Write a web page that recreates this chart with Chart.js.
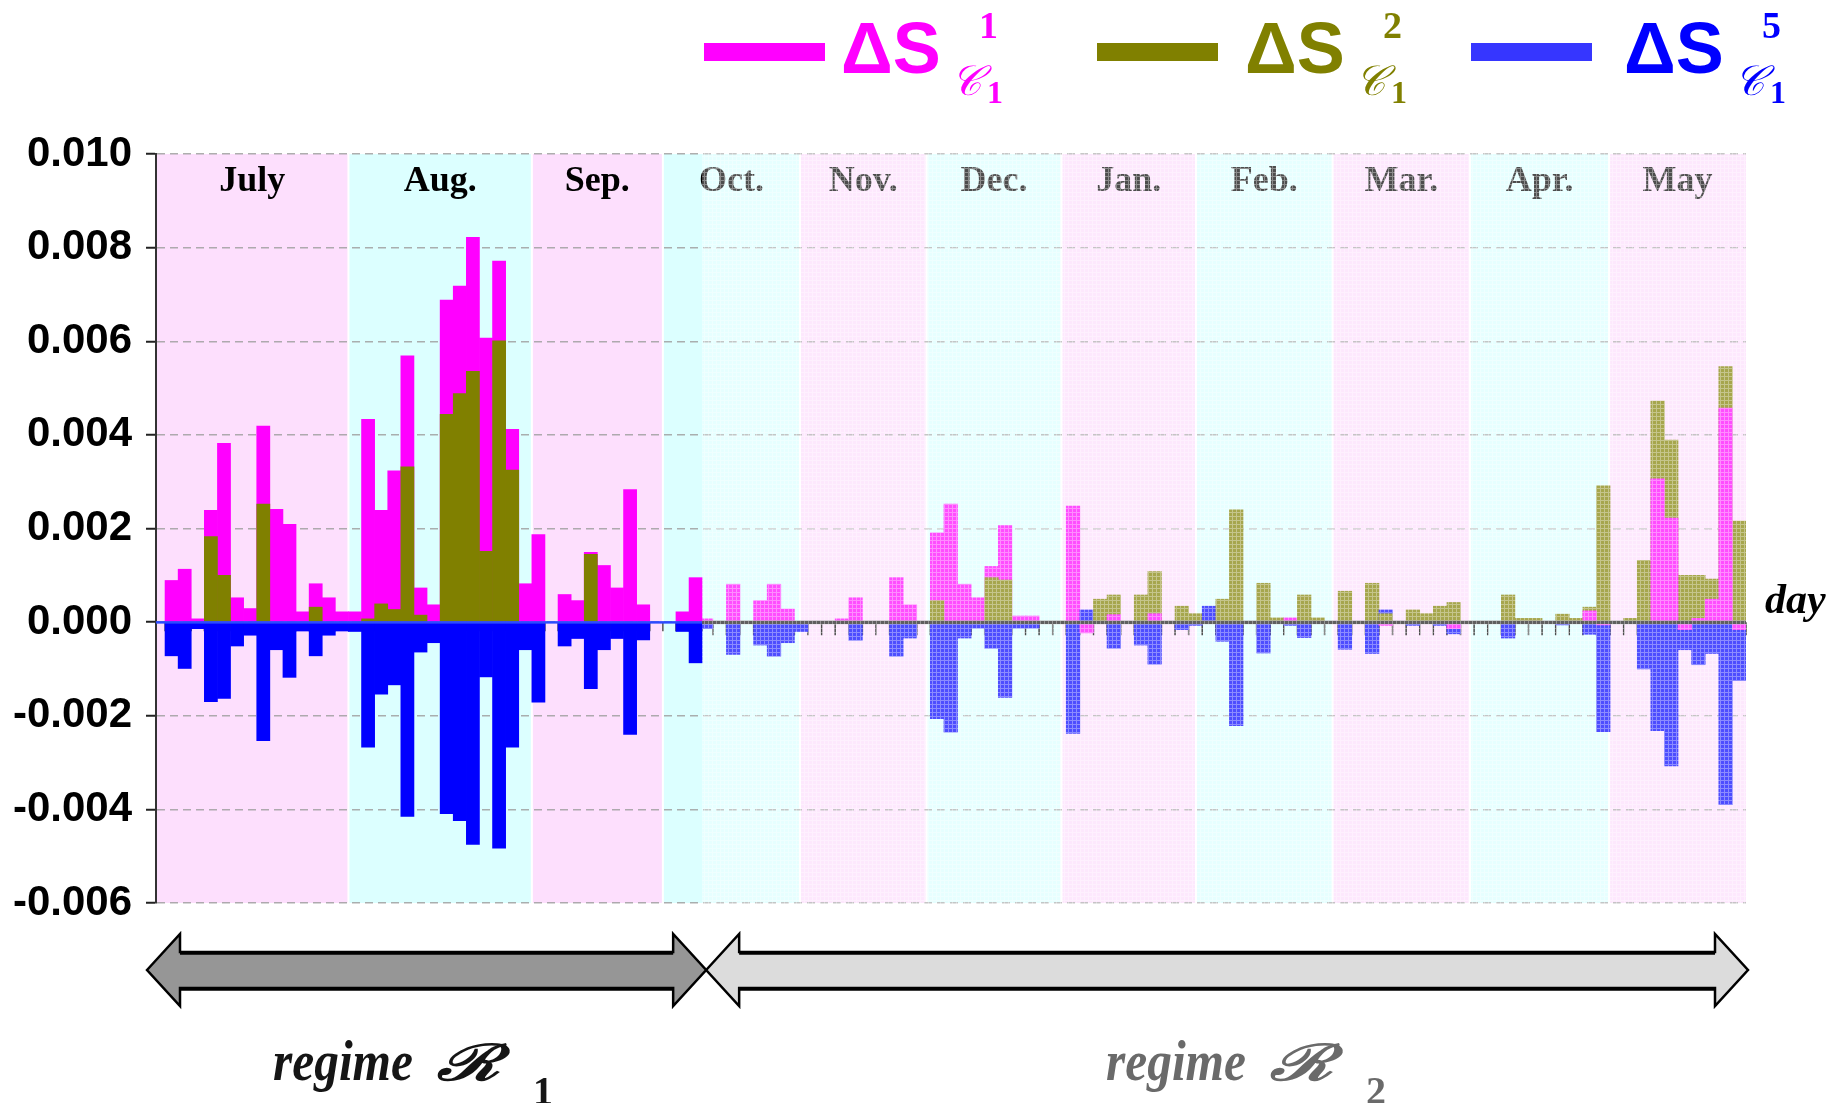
<!DOCTYPE html>
<html>
<head>
<meta charset="utf-8">
<title>Delta S by day, regimes R1 / R2</title>
<script src="https://cdn.jsdelivr.net/npm/chart.js@4.4.1/dist/chart.umd.min.js"></script>
<style>
  html, body { margin: 0; padding: 0; background: #fff; }
  #wrap { position: relative; width: 1845px; height: 1103px; overflow: hidden; }
  #chart, #ann { position: absolute; left: 0; top: 0; }
  #ann { pointer-events: none; }
</style>
</head>
<body>
<div id="wrap">
  <canvas id="chart" width="1845" height="1103"></canvas>
  <svg id="ann" width="1845" height="1103" xmlns="http://www.w3.org/2000/svg"></svg>
</div>
<script>
/* ---------- data (one value per bar) ---------- */
const dS1 = [
  0.00089, 0.00113, 0.00007, 0.00239, 0.00382, 0.00052, 0.00029, 0.00419, 0.00241, 0.00209,
  0.00022, 0.00082, 0.00052, 0.00022, 0.00022, 0.00433, 0.00239, 0.00323, 0.00569, 0.00073,
  0.00037, 0.00688, 0.00718, 0.00822, 0.00607, 0.00771, 0.00412, 0.00082, 0.00187, 0,
  0.00059, 0.00046, 0.00149, 0.00121, 0.00073, 0.00283, 0.00037, 0, 0, 0.00022,
  0.00095, 0.00007, 0, 0.00081, 0, 0.00046, 0.00081, 0.00028, 0, 0,
  0, 0.00007, 0.00052, 0, 0, 0.00095, 0.00037, 0, 0.00191, 0.00252,
  0.00081, 0.00052, 0.00119, 0.00206, 0.00013, 0.00013, 0, 0, 0.00248, -0.00023,
  0, 0.00016, 0, 0, 0.00018, 0, 0, 0, 0, 0,
  0, 0, 0, 0, 0.00009, 0, 0, 0, 0, 0,
  0, -0.00007, 0, 0, 0, 0, -0.00014, 0, 0, 0,
  0, 0, 0, 0, 0, 0, 0.00024, -0.00006, 0, 0,
  0, 0.00306, 0.00222, -0.00016, 0.00008, 0.00049, 0.00457, -0.00016
];
const dS2 = [
  0, 0, 0, 0.00183, 0.001, 0, 0, 0.00252, 0, 0,
  0, 0.00032, 0, 0, 0, 0.00007, 0.00039, 0.00027, 0.00332, 0.00015,
  0, 0.00444, 0.00488, 0.00536, 0.00151, 0.00601, 0.00325, 0, 0, 0,
  0, 0, 0.00145, 0, 0, 0, 0, 0, 0, 0,
  0, 0, 0, 0, 0, 0, 0, 0, 0, 0,
  0, 0, 0, 0, 0, 0, 0, 0, 0.00046, 0,
  0, 0, 0.00095, 0.0009, 0, 0, 0, 0, 0, 0,
  0.00049, 0.00058, 0, 0.00058, 0.00108, 0, 0.00034, 0.00018, 0, 0.00049,
  0.0024, 0, 0.00083, 0.00009, 0, 0.00058, 0.00009, 0, 0.00066, 0,
  0.00083, 0.00018, 0, 0.00026, 0.00018, 0.00034, 0.00042, 0, 0, 0,
  0.00058, 0.00008, 0.00008, 0, 0.00017, 0.00008, 0.00032, 0.00291, 0, 0.00008,
  0.00132, 0.00472, 0.00389, 0.001, 0.001, 0.00092, 0.00546, 0.00216
];
const dS5 = [
  -0.00072, -0.00099, -0.00014, -0.0017, -0.00163, -0.00051, -0.00028, -0.00253, -0.00059, -0.00118,
  -0.00019, -0.00072, -0.00028, -0.00019, -0.0002, -0.00267, -0.00154, -0.00134, -0.00415, -0.00064,
  -0.00044, -0.00409, -0.00424, -0.00475, -0.00117, -0.00483, -0.00267, -0.00059, -0.00171, 0,
  -0.00051, -0.00035, -0.00142, -0.00059, -0.00035, -0.0024, -0.00038, 0, 0, -0.0002,
  -0.00087, -0.00014, 0, -0.00069, 0, -0.00049, -0.00073, -0.00044, -0.0002, 0,
  0, 0, -0.00039, 0, 0, -0.00073, -0.00034, 0, -0.00206, -0.00235,
  -0.00034, -0.00013, -0.00056, -0.00161, -0.00013, -0.00013, 0, 0, -0.00238, 0.00026,
  0, -0.00056, 0, -0.00049, -0.0009, 0, -0.00016, -0.00007, 0.00034, -0.00041,
  -0.00221, 0, -0.00066, 0, -0.00007, -0.00033, 0, 0, -0.00058, 0,
  -0.00067, 0.00026, 0, -0.00007, 0, -0.00007, -0.00025, 0, 0, 0,
  -0.00034, 0, 0, 0, -0.00006, 0, -0.00026, -0.00234, 0, 0,
  -0.001, -0.00232, -0.00307, -0.00059, -0.00091, -0.00067, -0.0039, -0.00125
];

const yTicks = [0.010, 0.008, 0.006, 0.004, 0.002, 0.000, -0.002, -0.004, -0.006];
const months = ['July', 'Aug.', 'Sep.', 'Oct.', 'Nov.', 'Dec.', 'Jan.', 'Feb.', 'Mar.', 'Apr.', 'May'];
// month edges in bar-index units; regime 1 ends inside October
const monthEdgesR1 = [-1.19, 13.5, 27.5, 37.5, 40.5];
const monthEdgesR2 = [40.72, 47.91, 57.22, 67.15, 77.04, 87.09, 97.2, 107.43, 117.5];
const SPLIT = 41;            // first bar of regime 2
const N = dS1.length;

const supLabels = ['1', '2', '5'];
const seriesColors = ['#ff00ff', '#808000', '#0000ff'];
const swatchColors = ['#ff00ff', '#808000', '#3636ff'];
const regimeNames = ['1', '2'];

/* ---------- bars: per bar, the smaller value is drawn in front ---------- */
const series = [dS1, dS2, dS5];

function buildLayers(from, to) {
  const layers = [[], [], []];
  for (let i = from; i < to; i++) {
    const ranked = series
      .map((s, k) => ({ y: s[i], c: seriesColors[k] }))
      .sort((a, b) => Math.abs(b.y) - Math.abs(a.y));
    ranked.forEach((p, r) => layers[r].push({ x: i, y: p.y, c: p.c }));
  }
  return layers;
}

const datasets = [];
[['xa', 0, SPLIT], ['xb', SPLIT, N]].forEach(([axis, from, to]) => {
  buildLayers(from, to).forEach((layer, r) => {
    datasets.push({
      xAxisID: axis,
      order: 2 - r,
      data: layer.map(p => ({ x: p.x, y: p.y === 0 ? null : p.y })),
      backgroundColor: layer.map(p => p.c),
      borderWidth: 0,
      barPercentage: 1,
      categoryPercentage: 1,
      grouped: false
    });
  });
});

/* ---------- faded texture laid over regime 2 ---------- */
const tile = document.createElement('canvas');
tile.width = 4; tile.height = 4;
const tctx = tile.getContext('2d');
tctx.fillStyle = 'rgba(255,255,255,0.30)';
tctx.fillRect(0, 0, 4, 4);
tctx.fillStyle = 'rgba(255,255,255,0.35)';
tctx.fillRect(0, 0, 1, 4);
tctx.fillRect(1, 0, 3, 1);

const PINK = '#fddffd';
const CYAN = '#dcffff';

function splitPixel(chart) {
  return chart.scales.xa.getPixelForValue(SPLIT - 0.5);
}

const regimePlugin = {
  id: 'regimes',
  beforeDraw(chart) {
    const { ctx, chartArea: a, scales } = chart;
    const h = a.bottom - a.top;
    ctx.save();
    for (let j = 0; j < monthEdgesR1.length - 1; j++) {
      const x0 = scales.xa.getPixelForValue(monthEdgesR1[j]);
      const x1 = scales.xa.getPixelForValue(monthEdgesR1[j + 1]);
      ctx.fillStyle = j % 2 === 0 ? PINK : CYAN;
      ctx.fillRect(x0, a.top, x1 - x0, h);
    }
    const m0 = monthEdgesR1.length - 2;
    for (let j = 0; j < monthEdgesR2.length - 1; j++) {
      const x0 = j === 0 ? splitPixel(chart) : scales.xb.getPixelForValue(monthEdgesR2[j]);
      const x1 = scales.xb.getPixelForValue(monthEdgesR2[j + 1]);
      ctx.fillStyle = (m0 + j) % 2 === 0 ? PINK : CYAN;
      ctx.fillRect(x0, a.top, x1 - x0, h);
    }
    // thin white seams between months
    ctx.fillStyle = '#fff';
    monthEdgesR1.slice(1, -1).forEach(v => {
      const x = scales.xa.getPixelForValue(v);
      ctx.fillRect(x - 1, a.top, 2, h);
    });
    monthEdgesR2.slice(1, -1).forEach(v => {
      const x = scales.xb.getPixelForValue(v);
      ctx.fillRect(x - 1, a.top, 2, h);
    });
    ctx.restore();
  },
  beforeDatasetsDraw(chart) {
    const { ctx, scales } = chart;
    const y0 = scales.y.getPixelForValue(0);
    ctx.save();
    ctx.lineWidth = 1.5;
    ctx.strokeStyle = '#555';
    ctx.beginPath();
    for (let i = 0; i <= SPLIT; i++) {
      const x = scales.xa.getPixelForValue(i - 0.5);
      ctx.moveTo(x, y0); ctx.lineTo(x, y0 + 9);
    }
    ctx.stroke();
    ctx.strokeStyle = '#000';
    ctx.beginPath();
    for (let i = SPLIT; i <= N; i++) {
      const x = scales.xb.getPixelForValue(i - 0.5);
      ctx.moveTo(x, y0); ctx.lineTo(x, y0 + 13);
    }
    ctx.stroke();
    ctx.restore();
  },
  afterDatasetsDraw(chart) {
    const { ctx, chartArea: a, scales } = chart;
    const y0 = scales.y.getPixelForValue(0);
    const xs = splitPixel(chart);
    ctx.save();
    // zero lines
    ctx.fillStyle = '#2b4bff';
    ctx.fillRect(a.left, y0 - 1, xs - a.left, 2.5);
    ctx.fillStyle = '#1a1a1a';
    ctx.fillRect(xs, y0 - 1.5, a.right - xs, 3.5);
    // month names, centred on each month's band
    const spans = [];
    for (let j = 0; j < monthEdgesR1.length - 1; j++) {
      spans.push([scales.xa.getPixelForValue(monthEdgesR1[j]), scales.xa.getPixelForValue(monthEdgesR1[j + 1])]);
    }
    for (let j = 0; j < monthEdgesR2.length - 1; j++) {
      const s = [scales.xb.getPixelForValue(monthEdgesR2[j]), scales.xb.getPixelForValue(monthEdgesR2[j + 1])];
      if (j === 0) spans[spans.length - 1][1] = s[1];
      else spans.push(s);
    }
    ctx.font = "bold 36px 'Liberation Serif', 'Times New Roman', serif";
    ctx.textAlign = 'center';
    ctx.textBaseline = 'alphabetic';
    ctx.fillStyle = '#000';
    months.forEach((m, j) => {
      ctx.fillText(m, (spans[j][0] + spans[j][1]) / 2, a.top + 37);
    });
    // regime 2 looks washed out
    ctx.fillStyle = ctx.createPattern(tile, 'repeat');
    ctx.fillRect(xs, a.top - 2, a.right - xs + 1, a.bottom - a.top + 4);
    ctx.restore();
  },
  afterDraw(chart) {
    const { ctx, chartArea: a } = chart;
    const xs = splitPixel(chart) + 4;
    const yc = a.bottom + 67;
    ctx.save();
    drawArrow(ctx, a.left - 9, xs, yc, '#969696');
    drawArrow(ctx, xs, a.right + 2, yc, '#dcdcdc');
    ctx.restore();
  }
};

function drawArrow(ctx, x0, x1, yc, fill) {
  const hl = 33, hh = 36, bh = 18;
  ctx.beginPath();
  ctx.moveTo(x0, yc);
  ctx.lineTo(x0 + hl, yc - hh);
  ctx.lineTo(x0 + hl, yc - bh);
  ctx.lineTo(x1 - hl, yc - bh);
  ctx.lineTo(x1 - hl, yc - hh);
  ctx.lineTo(x1, yc);
  ctx.lineTo(x1 - hl, yc + hh);
  ctx.lineTo(x1 - hl, yc + bh);
  ctx.lineTo(x0 + hl, yc + bh);
  ctx.lineTo(x0 + hl, yc + hh);
  ctx.closePath();
  ctx.fillStyle = fill;
  ctx.fill();
  ctx.lineJoin = 'miter';
  ctx.lineWidth = 2.5;
  ctx.strokeStyle = '#000';
  ctx.stroke();
  ctx.lineWidth = 3.5;
  ctx.beginPath();
  ctx.moveTo(x0 + hl, yc - bh + 1); ctx.lineTo(x1 - hl, yc - bh + 1);
  ctx.moveTo(x0 + hl, yc + bh + 1); ctx.lineTo(x1 - hl, yc + bh + 1);
  ctx.stroke();
}

/* ---------- chart ---------- */
new Chart(document.getElementById('chart'), {
  type: 'bar',
  data: { datasets },
  plugins: [regimePlugin],
  options: {
    responsive: false,
    animation: false,
    layout: { padding: { left: 0, top: 154, right: 99, bottom: 200 } },
    plugins: { legend: { display: false }, tooltip: { enabled: false } },
    scales: {
      xa: { type: 'linear', axis: 'x', position: 'bottom', display: false, offset: false, bounds: 'data', min: -1.19, max: 120.18 },
      xb: { type: 'linear', axis: 'x', position: 'bottom', display: false, offset: false, bounds: 'data', min: 0.54, max: 117.5 },
      y: {
        min: -0.006,
        max: 0.010,
        afterBuildTicks: s => { s.ticks = yTicks.map(v => ({ value: v })); },
        afterFit: s => { s.width = 156; },
        ticks: {
          callback: v => v.toFixed(3),
          color: '#000',
          padding: 14,
          font: { family: "'Liberation Sans', Arial, sans-serif", size: 42, weight: 'bold' }
        },
        grid: {
          color: 'rgba(160,160,160,0.85)',
          lineWidth: 1.5,
          tickColor: '#222',
          tickLength: 10,
          tickWidth: 2,
          tickBorderDash: []
        },
        border: { display: true, color: '#333', width: 2, dash: [8, 5] }
      }
    }
  }
});

/* ---------- legend and labels as svg text ---------- */
const svg = document.getElementById('ann');
const NS = 'http://www.w3.org/2000/svg';
const SANS = "'Liberation Sans', Arial, sans-serif";
const SERIF = "'Liberation Serif', 'DejaVu Serif', 'Times New Roman', serif";

function put(tag, attrs, text) {
  const el = document.createElementNS(NS, tag);
  Object.entries(attrs).forEach(([k, v]) => el.setAttribute(k, v));
  if (text !== undefined) el.textContent = text;
  svg.appendChild(el);
  return el;
}

const swatchX = [704, 1097, 1471];
const labelX = [841, 1245, 1624];
supLabels.forEach((sup, k) => {
  const c = seriesColors[k];
  const x = labelX[k];
  put('rect', { x: swatchX[k], y: 43, width: 121, height: 18, fill: swatchColors[k] });
  put('text', { x, y: 73, fill: c, 'font-family': SANS, 'font-weight': 'bold', 'font-size': 72 }, 'ΔS');
  put('text', { x: x + 110, y: 95, fill: c, 'font-family': SERIF, 'font-style': 'italic', 'font-size': 42 }, '𝒞');
  put('text', { x: x + 146, y: 103, fill: c, 'font-family': SERIF, 'font-weight': 'bold', 'font-size': 32 }, '1');
  put('text', { x: x + 138, y: 38, fill: c, 'font-family': SERIF, 'font-weight': 'bold', 'font-size': 38 }, sup);
});

put('text', { x: 1765, y: 613, fill: '#000', 'font-family': SERIF, 'font-style': 'italic', 'font-weight': 'bold', 'font-size': 42 }, 'day');

// "regime R_n" under each arrow
const regimeX = [273, 1106];
const regimeFill = ['#151515', '#6a6a6a'];
regimeNames.forEach((n, k) => {
  const x = regimeX[k];
  const f = regimeFill[k];
  put('text', { x, y: 1080, fill: f, 'font-family': SERIF, 'font-style': 'italic', 'font-weight': 'bold',
    'font-size': 58, textLength: 140, lengthAdjust: 'spacingAndGlyphs' }, 'regime');
  put('text', { x: x + 164, y: 1080, fill: f, 'font-family': SERIF, 'font-style': 'italic', 'font-weight': 'bold',
    'font-size': 50, textLength: 63, lengthAdjust: 'spacingAndGlyphs' }, 'ℛ');
  put('text', { x: x + 260, y: 1104, fill: f, 'font-family': SERIF, 'font-weight': 'bold', 'font-size': 40 }, n);
});
</script>
</body>
</html>
